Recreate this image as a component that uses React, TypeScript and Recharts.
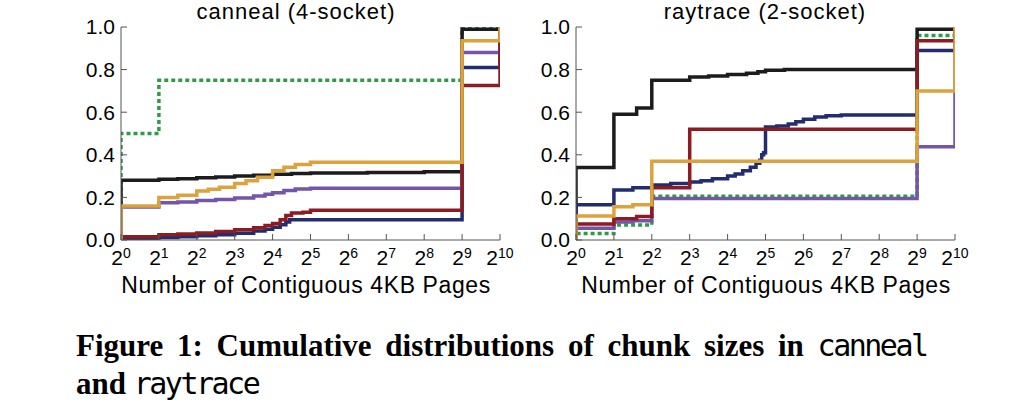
import { LineChart, Line, XAxis, YAxis } from "recharts";

// x is the exponent of 2 (number of contiguous 4KB pages = 2^x), y is the CDF value
type Pt = [number, number];

const xTicks = [0, 1, 2, 3, 4, 5, 6, 7, 8, 9, 10];
const yTicks = [0, 0.2, 0.4, 0.6, 0.8, 1.0];

// canneal (4-socket)
const cannealBlack: Pt[] = [[0, 0], [0, 0.28], [1, 0.285], [1.5, 0.288], [2, 0.292], [2.5, 0.296], [3, 0.3], [3.5, 0.304], [4, 0.309], [4.5, 0.312], [5, 0.315], [6.5, 0.317], [8, 0.32], [9, 0.99], [10, 1.0]];
const cannealNavy: Pt[] = [[0, 0], [0, 0.008], [1, 0.012], [1.5, 0.015], [2, 0.02], [2.5, 0.025], [3, 0.032], [3.5, 0.042], [3.8, 0.05], [4, 0.06], [4.2, 0.072], [4.35, 0.085], [4.45, 0.095], [9, 0.81], [10, 1.0]];
const cannealPurple: Pt[] = [[0, 0], [0, 0.155], [1, 0.175], [1.5, 0.178], [2, 0.185], [2.5, 0.19], [3, 0.197], [3.5, 0.207], [3.8, 0.215], [4, 0.222], [4.3, 0.232], [4.6, 0.24], [5, 0.243], [9, 0.88], [10, 1.0]];
const cannealGreen: Pt[] = [[0, 0], [0, 0.5], [1, 0.75], [9, 1.0], [10, 1.0]];
const cannealRed: Pt[] = [[0, 0], [0, 0.015], [1, 0.025], [1.5, 0.028], [2, 0.033], [2.5, 0.04], [3, 0.048], [3.5, 0.058], [3.8, 0.068], [4, 0.078], [4.2, 0.095], [4.35, 0.115], [4.5, 0.127], [4.8, 0.13], [5, 0.14], [9, 0.725], [10, 1.0]];
const cannealGold: Pt[] = [[0, 0], [0, 0.16], [1, 0.2], [1.5, 0.21], [2, 0.23], [2.3, 0.238], [2.6, 0.248], [3, 0.265], [3.3, 0.278], [3.6, 0.295], [4, 0.325], [4.3, 0.342], [4.6, 0.355], [5, 0.365], [9, 0.935], [10, 1.0]];

// raytrace (2-socket)
const raytraceBlack: Pt[] = [[0, 0], [0, 0.34], [1, 0.59], [1.6, 0.62], [2, 0.75], [3, 0.765], [3.5, 0.77], [4, 0.777], [4.5, 0.783], [4.8, 0.79], [5, 0.797], [5.5, 0.8], [9, 0.99], [10, 1.0]];
const raytraceNavy: Pt[] = [[0, 0], [0, 0.165], [1, 0.235], [1.5, 0.245], [2, 0.258], [2.5, 0.265], [3, 0.272], [3.3, 0.278], [3.6, 0.287], [4, 0.3], [4.2, 0.31], [4.4, 0.325], [4.6, 0.342], [4.75, 0.36], [4.85, 0.375], [4.9, 0.4], [4.95, 0.41], [5, 0.53], [5.3, 0.535], [5.6, 0.545], [5.8, 0.555], [6, 0.567], [6.3, 0.577], [6.6, 0.583], [7, 0.587], [9, 0.89], [10, 1.0]];
const raytracePurple: Pt[] = [[0, 0], [0, 0.055], [1, 0.085], [1.5, 0.09], [2, 0.195], [9, 0.438], [10, 1.0]];
const raytraceGreen: Pt[] = [[0, 0], [0, 0.03], [1, 0.07], [2, 0.205], [9, 0.96], [10, 1.0]];
const raytraceRed: Pt[] = [[0, 0], [0, 0.075], [1, 0.1], [1.6, 0.11], [2, 0.245], [3, 0.52], [9, 0.935], [10, 1.0]];
const raytraceGold: Pt[] = [[0, 0], [0, 0.113], [1, 0.156], [1.5, 0.165], [2, 0.37], [9, 0.7], [10, 1.0]];

const SANS = "'Liberation Sans', Arial, sans-serif";
const AXIS = "#555";

const toRows = (pts: Pt[]) => pts.map(([x, y]) => ({ x, y }));

const PowTick = (props: any) => {
  const { x, y, payload } = props;
  return (
    <text x={x} y={y + 15} textAnchor="middle" fontFamily={SANS} fontSize={21} fill="#000">
      2<tspan dy={-7} fontSize={14}>{payload.value}</tspan>
    </text>
  );
};

const NoTick = () => <g />;

type SeriesSet = {
  black: Pt[];
  navy: Pt[];
  purple: Pt[];
  green: Pt[];
  red: Pt[];
  gold: Pt[];
};

const CdfChart = ({
  series,
  width,
  marginLeft,
  marginRight,
  yAxisWidth,
}: {
  series: SeriesSet;
  width: number;
  marginLeft: number;
  marginRight: number;
  yAxisWidth: number;
}) => {
  const solid = (key: string, pts: Pt[], color: string) => (
    <Line
      key={key}
      xAxisId="b"
      yAxisId="l"
      data={toRows(pts)}
      dataKey="y"
      type="stepAfter"
      stroke={color}
      strokeWidth={3.5}
      dot={false}
      activeDot={false}
      isAnimationActive={false}
    />
  );
  return (
    <LineChart
      width={width}
      height={300}
      margin={{ top: 27, right: marginRight, bottom: 0, left: marginLeft }}
    >
      <XAxis
        xAxisId="b"
        type="number"
        dataKey="x"
        domain={[0, 10]}
        ticks={xTicks}
        interval={0}
        allowDataOverflow
        height={60}
        stroke={AXIS}
        tickSize={-6}
        tickMargin={16}
        tick={<PowTick />}
      />
      <XAxis
        xAxisId="t"
        orientation="top"
        type="number"
        dataKey="x"
        domain={[0, 10]}
        ticks={xTicks}
        interval={0}
        allowDataOverflow
        height={0}
        stroke={AXIS}
        tickSize={-6}
        tick={<NoTick />}
      />
      <YAxis
        yAxisId="l"
        type="number"
        domain={[0, 1]}
        ticks={yTicks}
        interval={0}
        allowDataOverflow
        width={yAxisWidth}
        stroke={AXIS}
        tickSize={-6}
        tickMargin={12}
        tickFormatter={(v: number) => v.toFixed(1)}
        tick={{ fontSize: 21, fill: "#000", fontFamily: SANS }}
      />
      <YAxis
        yAxisId="r"
        orientation="right"
        type="number"
        domain={[0, 1]}
        ticks={yTicks}
        interval={0}
        width={0}
        stroke={AXIS}
        tickSize={-6}
        tick={<NoTick />}
      />
      <Line
        xAxisId="b"
        yAxisId="l"
        data={toRows(series.green)}
        dataKey="y"
        type="stepAfter"
        stroke="#2f9a48"
        strokeWidth={3.5}
        strokeDasharray="4 3"
        dot={false}
        activeDot={false}
        isAnimationActive={false}
      />
      {solid("black", series.black, "#1c1c1c")}
      {solid("navy", series.navy, "#222c6e")}
      {solid("purple", series.purple, "#7455a8")}
      {solid("red", series.red, "#8c1c22")}
      {solid("gold", series.gold, "#dca33c")}
    </LineChart>
  );
};

const titleStyle: React.CSSProperties = {
  position: "absolute",
  width: 400,
  textAlign: "center",
  fontFamily: SANS,
  fontSize: 22,
  letterSpacing: 1,
  lineHeight: "24px",
  color: "#000",
  whiteSpace: "nowrap",
};

const xLabelStyle: React.CSSProperties = {
  position: "absolute",
  width: 440,
  textAlign: "center",
  fontFamily: SANS,
  fontSize: 23,
  letterSpacing: 0.6,
  lineHeight: "26px",
  color: "#000",
  whiteSpace: "nowrap",
};

const mono: React.CSSProperties = {
  fontFamily: "'DejaVu Sans Mono', monospace",
  fontWeight: "normal",
  fontSize: 30,
  letterSpacing: -2.5,
  wordSpacing: 0,
};

export default function App() {
  return (
    <div
      style={{
        position: "absolute",
        left: 0,
        top: 0,
        width: 1028,
        height: 405,
        background: "#fff",
        overflow: "hidden",
      }}
    >
      <div style={{ position: "absolute", left: 0, top: 0 }}>
        <CdfChart
          series={{
            black: cannealBlack,
            navy: cannealNavy,
            purple: cannealPurple,
            green: cannealGreen,
            red: cannealRed,
            gold: cannealGold,
          }}
          width={520}
          marginLeft={61}
          marginRight={20}
          yAxisWidth={60}
        />
      </div>
      <div style={{ position: "absolute", left: 520, top: 0 }}>
        <CdfChart
          series={{
            black: raytraceBlack,
            navy: raytraceNavy,
            purple: raytracePurple,
            green: raytraceGreen,
            red: raytraceRed,
            gold: raytraceGold,
          }}
          width={480}
          marginLeft={0}
          marginRight={45}
          yAxisWidth={56}
        />
      </div>

      <div style={{ ...titleStyle, left: 296 - 200, top: 0 }}>canneal (4-socket)</div>
      <div style={{ ...titleStyle, left: 765 - 200, top: 0 }}>raytrace (2-socket)</div>

      <div style={{ ...xLabelStyle, left: 306 - 220, top: 272 }}>Number of Contiguous 4KB Pages</div>
      <div style={{ ...xLabelStyle, left: 766 - 220, top: 272 }}>Number of Contiguous 4KB Pages</div>

      <div
        style={{
          position: "absolute",
          left: 76,
          top: 327,
          fontFamily: "'Liberation Serif', 'Times New Roman', serif",
          fontWeight: "bold",
          fontSize: 31,
          lineHeight: "38px",
          color: "#000",
          whiteSpace: "nowrap",
        }}
      >
        <div style={{ wordSpacing: 6 }}>
          Figure 1: Cumulative distributions of chunk sizes in <span style={mono}>canneal</span>
        </div>
        <div>
          and <span style={mono}>raytrace</span>
        </div>
      </div>
    </div>
  );
}
